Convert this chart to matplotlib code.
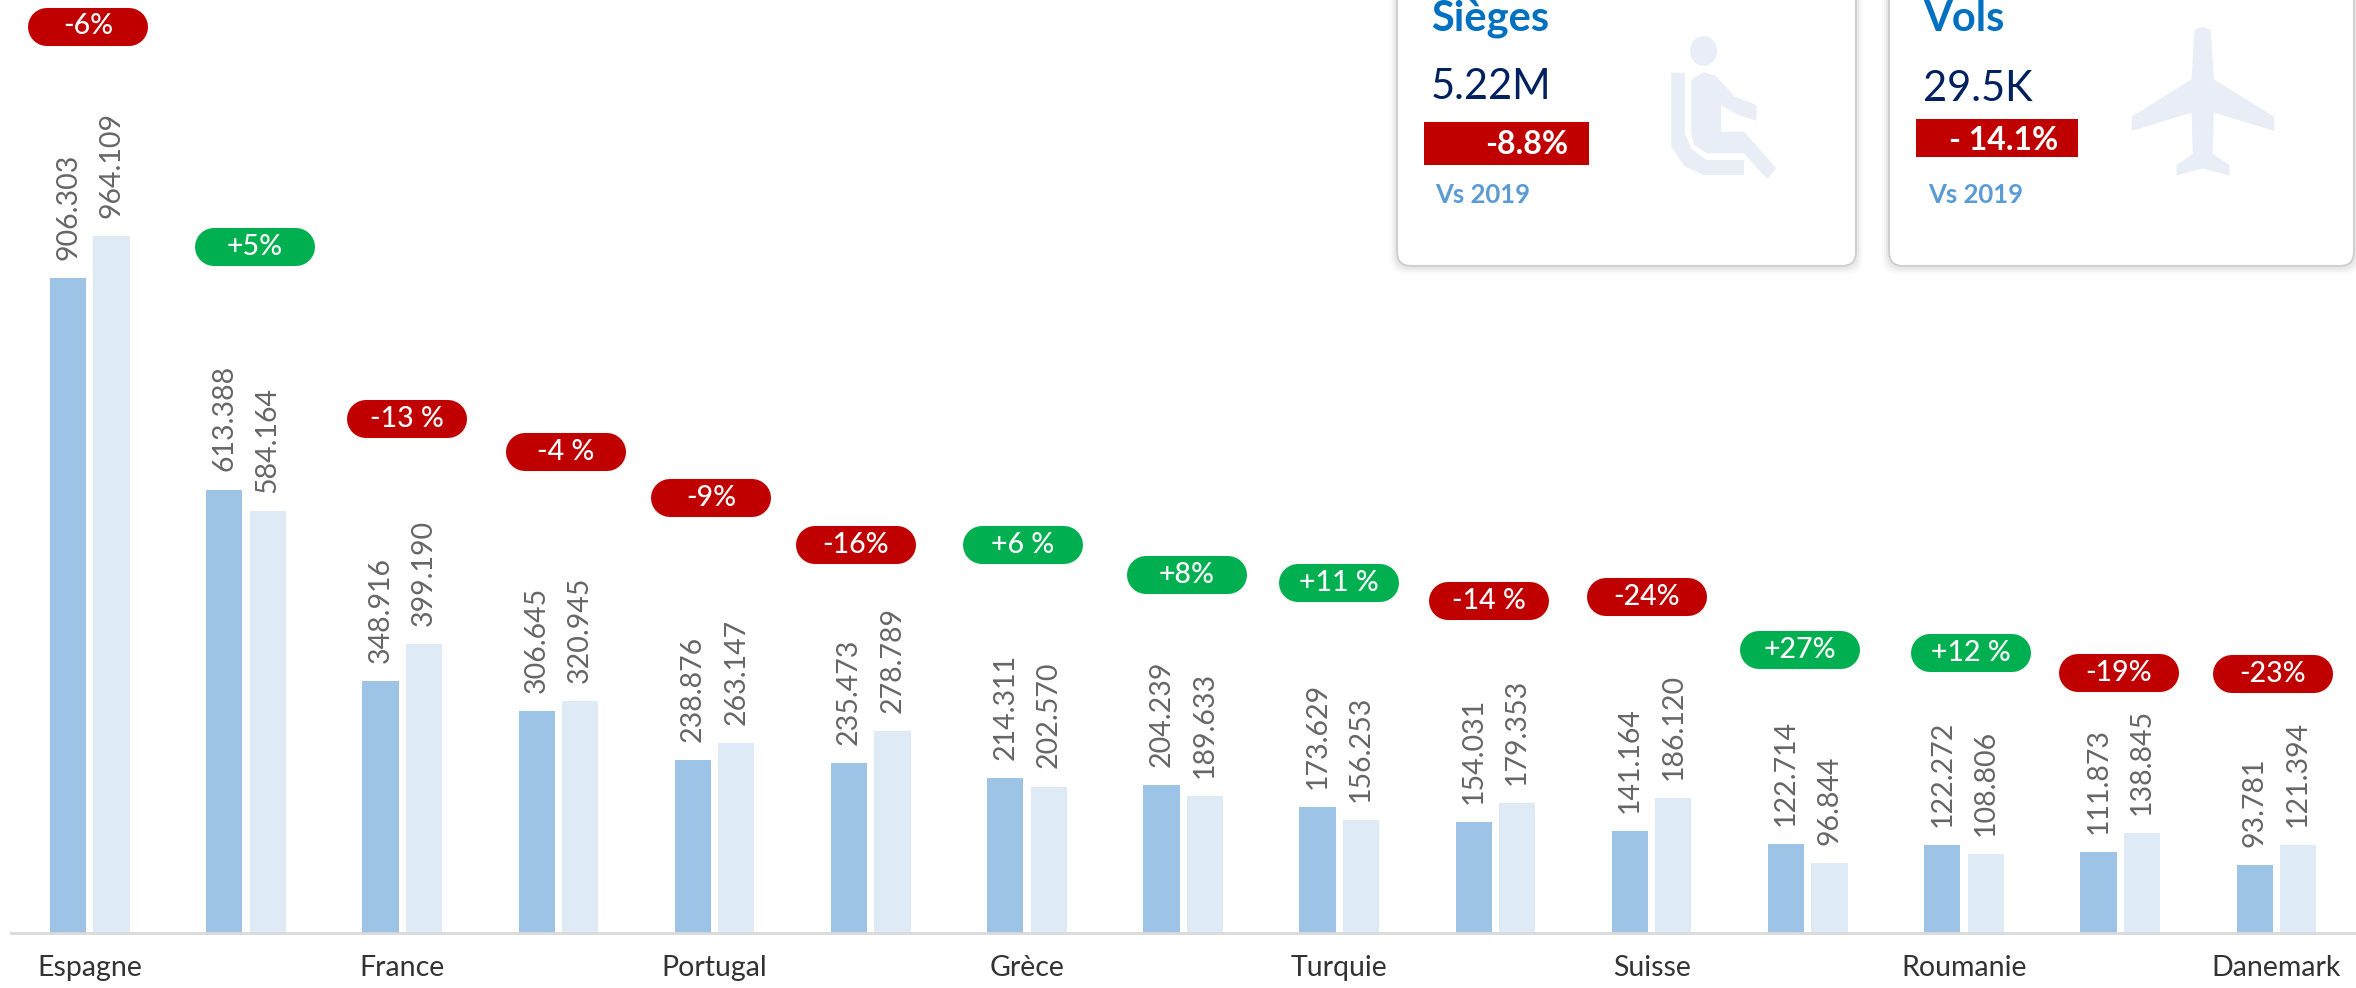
import matplotlib
matplotlib.use('Agg')
import matplotlib.pyplot as plt
from matplotlib.patches import FancyBboxPatch, Polygon, Ellipse, Rectangle

plt.rcParams['font.family'] = ['Lato', 'DejaVu Sans']

countries = ['Espagne', '', 'France', '', 'Portugal', '', 'Grèce', '', 'Turquie', '', 'Suisse', '', 'Roumanie', '', 'Danemark']
seats_2022 = [906303, 613388, 348916, 306645, 238876, 235473, 214311, 204239, 173629, 154031, 141164, 122714, 122272, 111873, 93781]
seats_2019 = [964109, 584164, 399190, 320945, 263147, 278789, 202570, 189633, 156253, 179353, 186120, 96844, 108806, 138845, 121394]
changes = ['-6%', '+5%', '-13 %', '-4 %', '-9%', '-16%', '+6 %', '+8%', '+11 %', '-14 %', '-24%', '+27%', '+12 %', '-19%', '-23%']

# pill centres, in reference pixels
pill_x = [88, 255, 407, 566, 711, 856, 1023, 1187, 1339, 1489, 1647, 1800, 1971, 2119, 2273]
pill_y = [27, 247, 419, 452, 498, 545, 545, 575, 583, 601, 597, 650, 653, 673, 674]

W, H = 2356, 988
BASE = 933
BLUE = '#9DC3E6'
LIGHT = '#DEEAF6'
RED = '#C00000'
GREEN = '#00B050'
ICON = '#E9EEF6'
OFFSET = 0.139

fig = plt.figure(figsize=(W / 100, H / 100), dpi=100)

# bars
ax = fig.add_axes([11 / W, (H - BASE) / H, (W - 11) / W, BASE / H])
x = list(range(len(countries)))
ax.bar([i - OFFSET for i in x], seats_2022, width=0.232, color=BLUE)
ax.bar([i + OFFSET for i in x], seats_2019, width=0.232, color=LIGHT)
ax.set_xlim(-0.505, 14.51)
ax.set_ylim(0, BASE / 0.000723)
for s in ['top', 'left', 'right']:
    ax.spines[s].set_visible(False)
ax.spines['bottom'].set_color('#D9D9D9')
ax.spines['bottom'].set_linewidth(2)
ax.set_yticks([])
ax.set_xticks(x, countries, fontsize=20.5, color='#333333')
ax.tick_params(axis='x', length=0, pad=16)

for i in x:
    for dx, v in ((-OFFSET, seats_2022[i]), (OFFSET, seats_2019[i])):
        ax.annotate(f'{v:,}'.replace(',', '.'), (i + dx, v), xytext=(0, 13), textcoords='offset points',
                    rotation=90, ha='center', va='bottom', fontsize=20.5, color='#666666')

# overlay in reference pixels for pills and cards
ov = fig.add_axes([0, 0, 1, 1], zorder=5)
ov.set_xlim(0, W)
ov.set_ylim(H, 0)
ov.axis('off')

for i, label in enumerate(changes):
    c = GREEN if label.startswith('+') else RED
    ov.plot([pill_x[i] - 41, pill_x[i] + 41], [pill_y[i], pill_y[i]], color=c, lw=27.4, solid_capstyle='round')
    ov.text(pill_x[i], pill_y[i] - 0.5, label, color='white', fontsize=20.5, ha='center', va='center', fontweight='medium')


def card(left, right, bottom):
    for grow, alpha in ((7, 0.04), (5, 0.05), (3, 0.08)):
        ov.add_patch(FancyBboxPatch((left - grow, -40), right - left + 2 * grow, bottom + 40 + grow + 1,
                                    boxstyle='round,pad=0,rounding_size=16', fc='#808080', ec='none', alpha=alpha))
    ov.add_patch(FancyBboxPatch((left, -40), right - left, bottom + 40, boxstyle='round,pad=0,rounding_size=14',
                                fc='white', ec='#D0D0D0', lw=1.5))


card(1397, 1856, 266)
card(1889, 2354, 266)


def zx(v):
    return 1380 + v / 1.607


# seat icon
ov.add_patch(Ellipse((zx(520), 51), 27, 30, fc=ICON, ec='none'))
seat_back = [(468, 218), (490, 218), (490, 400), (500, 445), (525, 480), (585, 480), (585, 525), (520, 525),
             (490, 500), (468, 440)]
seat_body = [(500, 240), (520, 216), (540, 228), (570, 290), (605, 315), (605, 362), (575, 345), (548, 315),
             (548, 395), (585, 395), (637, 505), (622, 537), (585, 460), (525, 460), (505, 435), (500, 400)]
ov.add_patch(Polygon([(zx(a), b / 3) for a, b in seat_back], fc=ICON, ec='none'))
ov.add_patch(Polygon([(zx(a), b / 3) for a, b in seat_body], fc=ICON, ec='none'))

# plane icon
plane = [(1322, 80), (1335, 90), (1340, 238), (1437, 350), (1437, 393), (1340, 338), (1338, 462), (1365, 495),
         (1365, 527), (1322, 505), (1280, 527), (1280, 495), (1306, 462), (1304, 338), (1208, 393), (1208, 350),
         (1304, 238), (1309, 90)]
ov.add_patch(Polygon([(zx(a), b / 3) for a, b in plane], fc=ICON, ec='none'))

# card texts
ov.text(1431, 30, 'Sièges', color='#0070C0', fontsize=30, fontweight='bold', va='baseline')
ov.text(1923, 31, 'Vols', color='#0070C0', fontsize=30, fontweight='bold', va='baseline')
ov.text(1431, 99, '5.22M', color='#002060', fontsize=30, va='baseline')
ov.text(1923, 101, '29.5K', color='#002060', fontsize=30, va='baseline')
ov.add_patch(Rectangle((1424, 122), 165, 43, fc=RED, ec='none'))
ov.add_patch(Rectangle((1916, 119), 162, 38, fc=RED, ec='none'))
ov.text(1568, 145, '-8.8%', color='white', fontsize=23, fontweight='bold', ha='right', va='center')
ov.text(2058, 140, '- 14.1%', color='white', fontsize=23, fontweight='bold', ha='right', va='center')
ov.text(1435, 203, 'Vs 2019', color='#5B9BD5', fontsize=18.5, fontweight='bold', va='baseline')
ov.text(1928, 203, 'Vs 2019', color='#5B9BD5', fontsize=18.5, fontweight='bold', va='baseline')

plt.savefig('out.png', dpi=100)
plt.close()
